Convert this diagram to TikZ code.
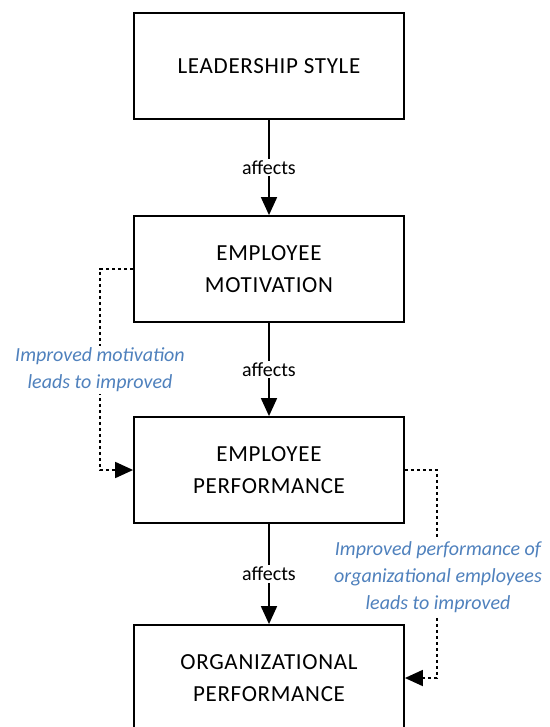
\documentclass[tikz,border=0pt]{standalone}
\usepackage{fontspec}
\setmainfont{Carlito}
\newfontfamily\boxfont[LetterSpace=3]{Carlito}
\usetikzlibrary{arrows.meta}
\definecolor{lblue}{RGB}{79,129,189}
\tikzset{
  box/.style={draw=black, line width=1.8pt, minimum width=270pt, minimum height=106pt, align=center, inner sep=0pt, font=\boxfont\fontsize{23}{32}\selectfont},
  solidarrow/.style={line width=1.8pt, -{Triangle[width=16pt,length=18pt]}},
  dotarrow/.style={line width=1.8pt, dash pattern=on 3.3pt off 2.7pt, -{Triangle[width=16pt,length=18pt]}},
  verb/.style={fill=white, inner sep=2pt, font=\fontsize{20}{22}\selectfont},
  note/.style={fill=white, inner sep=2pt, align=center, text=lblue, font=\fontsize{20}{27}\selectfont\itshape}
}
\begin{document}
\begin{tikzpicture}[x=1pt, y=-1pt]
\useasboundingbox (0,0) rectangle (549,727);
\clip (0,0) rectangle (549,727);
\node[box] (ls) at (269,66) {LEADERSHIP STYLE};
\node[box] (em) at (269,269) {EMPLOYEE\\MOTIVATION};
\node[box] (ep) at (269,470) {EMPLOYEE\\PERFORMANCE};
\node[box] (op) at (269,678) {ORGANIZATIONAL\\PERFORMANCE};
\draw[solidarrow] (ls) -- node[verb] {affects} (em);
\draw[solidarrow] (em) -- node[verb] {affects} (ep);
\draw[solidarrow] (ep) -- node[verb] {affects} (op);
\coordinate (l1) at (100,269);
\coordinate (l2) at (100,470);
\coordinate (r1) at (437,470);
\coordinate (r2) at (437,678);
\draw[dotarrow] (em.west) -- (l1) -- (l2) -- (ep.west);
\draw[dotarrow] (ep.east) -- (r1) -- (r2) -- (op.east);
\node[note] (n1) at (100,370) {Improved motivation\\leads to improved};
\node[note] (n2) at (438,577) {Improved performance of\\organizational employees\\leads to improved};
\end{tikzpicture}
\end{document}
